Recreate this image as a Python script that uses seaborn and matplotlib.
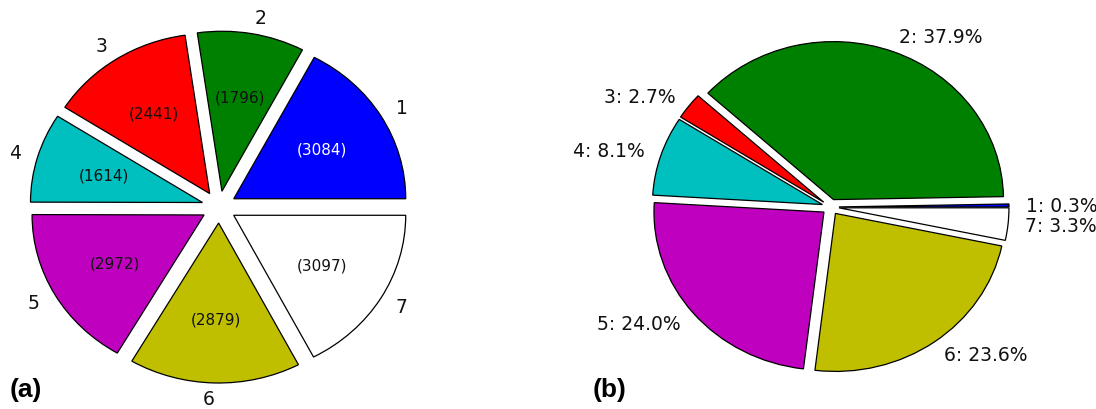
import matplotlib
matplotlib.use("Agg")
import matplotlib.pyplot as plt
import seaborn as sns
from matplotlib import font_manager

sns.set_style("white")

# Panel (a): number of samples per class
labels_a = ["1", "2", "3", "4", "5", "6", "7"]
counts_a = [3084, 1796, 2441, 1614, 2972, 2879, 3097]

# Panel (b): share of each class in percent
labels_b = ["1", "2", "3", "4", "5", "6", "7"]
share_b = [0.3, 37.9, 2.7, 8.1, 24.0, 23.6, 3.3]

slice_colors = ["b", "g", "r", "c", "m", "y", "w"]

# prefer a narrow face for the slice labels when it is installed
installed = {f.name for f in font_manager.fontManager.ttflist}
narrow = "Liberation Sans Narrow" in installed
label_font = "Liberation Sans Narrow" if narrow else "DejaVu Sans"
outer_size = 16.5 if narrow else 13.5
inner_size = 13 if narrow else 11
plt.rcParams["font.family"] = [label_font, "DejaVu Sans"]
plt.rcParams["text.color"] = "black"

W, H = 1096, 410
fig = plt.figure(figsize=(W / 100, H / 100), dpi=100)


def pie_axes(cx, cy, rx, ry, x0, x1):
    """Axes spanning pixel columns x0..x1 with a pie of radii rx, ry centred at (cx, cy)."""
    ax = fig.add_axes([x0 / W, 0, (x1 - x0) / W, 1])
    xlim = (-(cx - x0) / rx, (x1 - cx) / rx)
    ylim = (-(H - cy) / ry, cy / ry)
    return ax, xlim, ylim


edge = dict(edgecolor="black", linewidth=0.9)

# ---- (a) ----
ax_a, xl, yl = pie_axes(219, 208, 172, 160, 0, 438)
total_a = sum(counts_a)
wedges, texts, autotexts = ax_a.pie(
    counts_a,
    labels=labels_a,
    colors=slice_colors,
    explode=[0.1] * len(counts_a),
    startangle=0,
    autopct=lambda p: f"({round(p * total_a / 100)})",
    pctdistance=0.6,
    labeldistance=1.1,
    wedgeprops=edge,
    textprops=dict(fontsize=outer_size, color="#111111"),
)
for t in autotexts:
    t.set_fontsize(inner_size)
    t.set_color("#111111")
autotexts[0].set_color("white")
ax_a.set_aspect("auto")
ax_a.set_xlim(xl)
ax_a.set_ylim(yl)
ax_a.axis("off")

# ---- (b) ----
ax_b, xl, yl = pie_axes(830.5, 208, 170, 158, 600, 1061)
ax_b.pie(
    share_b,
    labels=[f"{k}: {v:.1f}%" for k, v in zip(labels_b, share_b)],
    colors=slice_colors,
    explode=[0.05] * len(share_b),
    startangle=0,
    labeldistance=1.1,
    wedgeprops=edge,
    textprops=dict(fontsize=outer_size, color="#111111"),
)
ax_b.set_aspect("auto")
ax_b.set_xlim(xl)
ax_b.set_ylim(yl)
ax_b.axis("off")

panel_font = dict(fontsize=19, fontweight="bold", family=["Liberation Sans", "DejaVu Sans"],
                  color="black", va="baseline", ha="left")
fig.text(10 / W, 1 - 397 / H, "(a)", **panel_font)
fig.text(593 / W, 1 - 397 / H, "(b)", **panel_font)

fig.savefig("out.png", dpi=100, facecolor="white")
